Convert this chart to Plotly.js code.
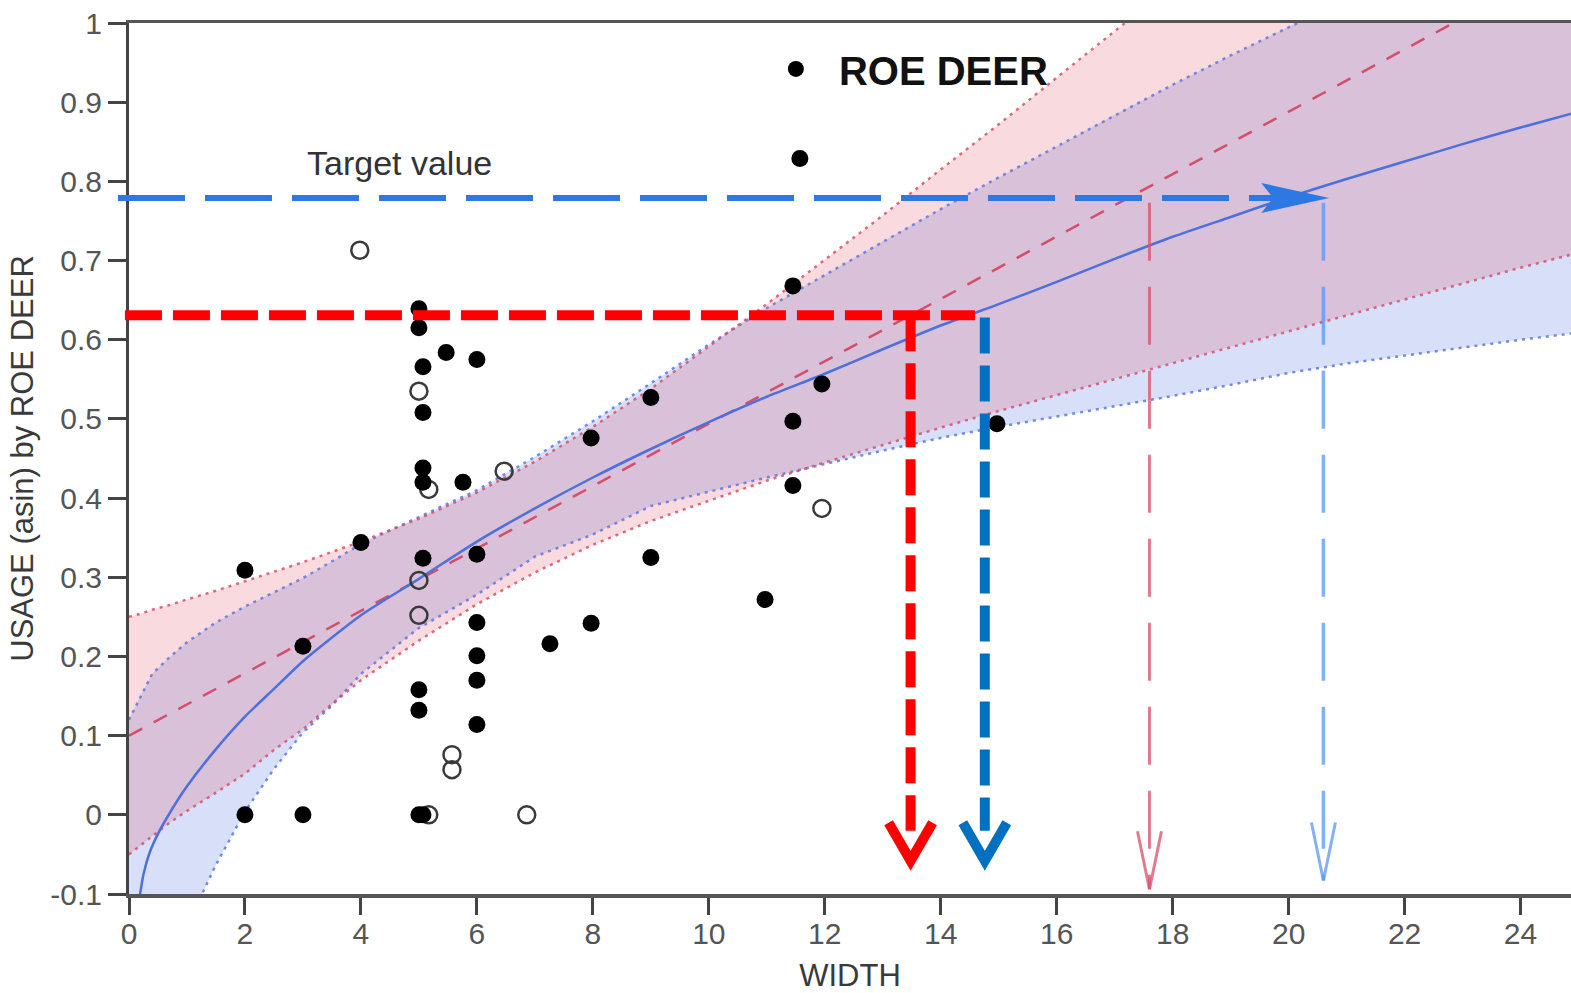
<!DOCTYPE html>
<html><head><meta charset="utf-8">
<script src="https://cdn.plot.ly/plotly-3.0.1.min.js"></script>
<style>html,body{margin:0;padding:0;background:#fff;}#chart{width:1571px;height:993px;}</style>
</head><body><div id="chart"></div>
<script>
// ---- observed points ----
const filledX = [2, 2, 3, 3, 4, 5, 5, 5.07, 5.07, 5.07, 5.07, 5.07, 5, 5, 5, 5.07, 5.47, 5.76, 6, 6, 6, 6, 6, 6, 7.26, 7.97, 7.97, 9, 9, 10.97, 11.45, 11.57, 11.45, 11.45, 11.95, 14.97];
const filledY = [0.309, 0, 0, 0.213, 0.344, 0.639, 0.615, 0.566, 0.508, 0.438, 0.42, 0.324, 0.158, 0.132, 0, 0, 0.584, 0.42, 0.575, 0.329, 0.243, 0.201, 0.17, 0.114, 0.216, 0.476, 0.242, 0.527, 0.325, 0.272, 0.668, 0.829, 0.497, 0.416, 0.544, 0.494];
const openX = [3.98, 5, 5.17, 5, 5, 5.57, 5.57, 5.17, 6.47, 6.86, 11.95];
const openY = [0.713, 0.535, 0.411, 0.296, 0.252, 0.076, 0.057, 0, 0.434, 0, 0.387];

// ---- bands (read along the WIDTH grid) ----
const bandX     = [0, 0.2, 0.4, 0.7, 1, 1.5, 2, 2.5, 3, 3.5, 4, 5, 6, 7, 8, 9, 10, 11, 12, 13, 14, 15, 16, 17, 18, 19, 20, 21, 22, 23, 24, 24.9];
const redUpper  = [0.250, 0.254, 0.259, 0.265, 0.272, 0.283, 0.295, 0.307, 0.319, 0.332, 0.345, 0.374, 0.407, 0.446, 0.490, 0.538, 0.591, 0.645, 0.701, 0.757, 0.815, 0.872, 0.931, 0.989, 1.047, 1.106, 1.165, 1.224, 1.283, 1.342, 1.400, 1.454];
const redLower  = [-0.050, -0.039, -0.027, -0.010, 0.005, 0.028, 0.052, 0.082, 0.108, 0.140, 0.170, 0.220, 0.266, 0.306, 0.341, 0.371, 0.397, 0.422, 0.445, 0.467, 0.489, 0.510, 0.530, 0.551, 0.571, 0.591, 0.611, 0.631, 0.651, 0.671, 0.691, 0.708];
const blueUpper = [0.120, 0.150, 0.178, 0.199, 0.218, 0.243, 0.263, 0.281, 0.299, 0.320, 0.342, 0.376, 0.410, 0.452, 0.497, 0.545, 0.594, 0.640, 0.682, 0.724, 0.765, 0.805, 0.844, 0.884, 0.922, 0.959, 0.995, 1.030, 1.065, 1.100, 1.135, 1.165];
const blueLower = [-0.50, -0.44, -0.38, -0.27, -0.14, -0.063, 0.004, 0.058, 0.104, 0.138, 0.178, 0.236, 0.278, 0.326, 0.354, 0.390, 0.408, 0.426, 0.443, 0.460, 0.476, 0.490, 0.503, 0.516, 0.529, 0.543, 0.558, 0.570, 0.580, 0.590, 0.600, 0.608];

// ---- fitted lines ----
const fitX = [0, 24.9];
const fitY = [0.1, 1.081];
const curveX = [0.17, 0.25, 0.36, 0.5, 0.7, 1, 1.5, 2, 2.5, 3, 4, 5, 6, 7, 8, 9, 10, 11, 12, 13, 14, 15, 16, 17, 18, 19, 20, 21, 22, 23, 24, 24.9];
const curveY = [-0.11, -0.075, -0.047, -0.024, 0.002, 0.036, 0.083, 0.124, 0.159, 0.194, 0.252, 0.298, 0.345, 0.387, 0.426, 0.462, 0.496, 0.528, 0.557, 0.588, 0.618, 0.645, 0.673, 0.702, 0.73, 0.755, 0.78, 0.803, 0.825, 0.847, 0.868, 0.886];

// ---- reading guides ----
const targetY = 0.779;        // blue target level
const redLevelY = 0.631;      // red level
const redDropX = 13.48;
const blueDropX = 14.76;
const pinkDropX = 17.6;
const lightDropX = 20.6;
const targetArrowTipX = 20.7;
const guideStartX = {blue: -0.19, red: -0.07};
const redLevelEndX = 14.59;

// ---- axis ticks ----
const xTickVals = [0, 2, 4, 6, 8, 10, 12, 14, 16, 18, 20, 22, 24];
const xTickText = ['0', '2', '4', '6', '8', '10', '12', '14', '16', '18', '20', '22', '24'];
const yTickVals = [-0.1, 0, 0.1, 0.2, 0.3, 0.4, 0.5, 0.6, 0.7, 0.8, 0.9, 1];
const yTickText = ['-0.1', '0', '0.1', '0.2', '0.3', '0.4', '0.5', '0.6', '0.7', '0.8', '0.9', '1'];

// ---- geometry helpers ----
const W = 1571, H = 993;
const M = {l: 129, r: 0, t: 23, b: 99};
const XR = [0, 24.87], YR = [-0.1, 1];
const plotW = W - M.l - M.r, plotH = H - M.t - M.b;
const xp = x => (x - XR[0]) / (XR[1] - XR[0]);
const yp = y => (y - YR[0]) / (YR[1] - YR[0]);
const dxPx = p => p * (XR[1] - XR[0]) / plotW;
const dyPx = p => p * (YR[1] - YR[0]) / plotH;

function chevron(x, yTip, halfPx, upPx, color, width) {
  return {x: [x - dxPx(halfPx), x, x + dxPx(halfPx)], y: [yTip + dyPx(upPx), yTip, yTip + dyPx(upPx)],
    mode: 'lines', line: {color: color, width: width}, showlegend: false, hoverinfo: 'skip'};
}

const polyX = (xs) => xs.concat(xs.slice().reverse());
const polyY = (u, l) => u.concat(l.slice().reverse());

const traces = [
  {x: polyX(bandX), y: polyY(blueUpper, blueLower), fill: 'toself', fillcolor: 'rgba(100,130,230,0.25)', mode: 'none', showlegend: false, hoverinfo: 'skip'},
  {x: polyX(bandX), y: polyY(redUpper, redLower), fill: 'toself', fillcolor: 'rgba(225,70,90,0.2)', mode: 'none', showlegend: false, hoverinfo: 'skip'},
  {x: bandX, y: blueUpper, mode: 'lines', line: {color: 'rgba(90,120,225,0.85)', width: 2.5, dash: '3px,5px'}, showlegend: false},
  {x: bandX, y: blueLower, mode: 'lines', line: {color: 'rgba(90,120,225,0.85)', width: 2.5, dash: '3px,5px'}, showlegend: false},
  {x: bandX, y: redUpper, mode: 'lines', line: {color: 'rgba(215,80,105,0.85)', width: 2.5, dash: '3px,5px'}, showlegend: false},
  {x: bandX, y: redLower, mode: 'lines', line: {color: 'rgba(215,80,105,0.85)', width: 2.5, dash: '3px,5px'}, showlegend: false},
  {x: fitX, y: fitY, mode: 'lines', line: {color: 'rgb(212,78,105)', width: 2.5, dash: '15px,13px'}, showlegend: false},
  {x: curveX, y: curveY, mode: 'lines', line: {color: '#4e70da', width: 2.5, shape: 'spline', smoothing: 0.6}, showlegend: false},
  chevron(redDropX, -0.058, 22, 38, '#ff0000', 10),
  chevron(blueDropX, -0.058, 22, 38, '#0070c0', 10),
  chevron(pinkDropX, -0.094, 12, 58, 'rgba(215,80,105,0.75)', 3),
  chevron(lightDropX, -0.083, 12, 58, 'rgba(90,150,245,0.75)', 3),
  {x: [targetArrowTipX - dxPx(68), targetArrowTipX, targetArrowTipX - dxPx(68), targetArrowTipX - dxPx(56)],
   y: [targetY + dyPx(15), targetY, targetY - dyPx(15), targetY], fill: 'toself', fillcolor: '#2e78e4', mode: 'lines', line: {width: 0, color: '#2e78e4'}, showlegend: false},
  {x: openX, y: openY, mode: 'markers', marker: {symbol: 'circle-open', size: 17, color: '#3a3a3a', line: {width: 2.5}}, showlegend: false},
  {x: filledX, y: filledY, mode: 'markers', name: 'ROE DEER', marker: {symbol: 'circle', size: 17, color: '#000'}, showlegend: true}
];

const shapes = [
  {type: 'line', xref: 'paper', yref: 'paper', x0: xp(guideStartX.blue), x1: xp(targetArrowTipX - 0.9), y0: yp(targetY), y1: yp(targetY), line: {color: '#2e78e4', width: 6, dash: '67px,20px'}},
  {type: 'line', xref: 'paper', yref: 'paper', x0: xp(guideStartX.red), x1: xp(redLevelEndX), y0: yp(redLevelY), y1: yp(redLevelY), line: {color: '#ff0000', width: 10, dash: '37px,11px'}},
  {type: 'line', xref: 'paper', yref: 'paper', x0: xp(redDropX), x1: xp(redDropX), y0: yp(redLevelY), y1: yp(-0.02), line: {color: '#ff0000', width: 10, dash: '36px,12px'}},
  {type: 'line', xref: 'paper', yref: 'paper', x0: xp(blueDropX), x1: xp(blueDropX), y0: yp(redLevelY - 0.003), y1: yp(-0.02), line: {color: '#0070c0', width: 10, dash: '36px,12px'}},
  {type: 'line', xref: 'paper', yref: 'paper', x0: xp(pinkDropX), x1: xp(pinkDropX), y0: yp(targetY - 0.006), y1: yp(-0.094), line: {color: 'rgba(215,80,105,0.75)', width: 3, dash: '58px,26px'}},
  {type: 'line', xref: 'paper', yref: 'paper', x0: xp(lightDropX), x1: xp(lightDropX), y0: yp(targetY - 0.006), y1: yp(-0.083), line: {color: 'rgba(90,150,245,0.75)', width: 3.5, dash: '58px,26px'}}
];

const FONT = 'Liberation Sans, Arial, sans-serif';
const layout = {
  width: W, height: H,
  margin: M,
  paper_bgcolor: '#fff', plot_bgcolor: '#fff',
  font: {family: FONT, color: '#444'},
  hovermode: false,
  showlegend: true,
  legend: {x: xp(10.76), y: yp(0.942), xanchor: 'left', yanchor: 'middle', bgcolor: 'rgba(0,0,0,0)', itemwidth: 76,
           font: {family: FONT, size: 40, color: '#111', weight: 'bold'}},
  xaxis: {range: XR, tickvals: xTickVals, ticktext: xTickText, ticks: 'outside', ticklen: 17, tickwidth: 3, tickcolor: '#444',
          showline: true, linecolor: '#555', linewidth: 3.5, mirror: true, showgrid: false, zeroline: false, automargin: false,
          ticklabelstandoff: -7,
          tickfont: {family: FONT, size: 30, color: '#555'},
          title: {text: 'WIDTH', font: {family: FONT, size: 31, color: '#3a3a3a'}, standoff: 19}},
  yaxis: {range: YR, tickvals: yTickVals, ticktext: yTickText, ticks: 'outside', ticklen: 18, tickwidth: 3, tickcolor: '#444',
          showline: true, linecolor: '#444', linewidth: 3, showgrid: false, zeroline: false, automargin: false,
          tickfont: {family: FONT, size: 30, color: '#555'},
          title: {text: 'USAGE (asin) by ROE DEER', font: {family: FONT, size: 31, color: '#3a3a3a'}, standoff: 8}},
  shapes: shapes,
  annotations: [
    {xref: 'x', yref: 'y', x: 4.67, y: 0.823, text: 'Target value', showarrow: false, xanchor: 'center', yanchor: 'middle',
     font: {family: FONT, size: 34, color: '#333'}}
  ]
};

Plotly.newPlot('chart', traces, layout, {staticPlot: true, displayModeBar: false});
</script></body></html>
